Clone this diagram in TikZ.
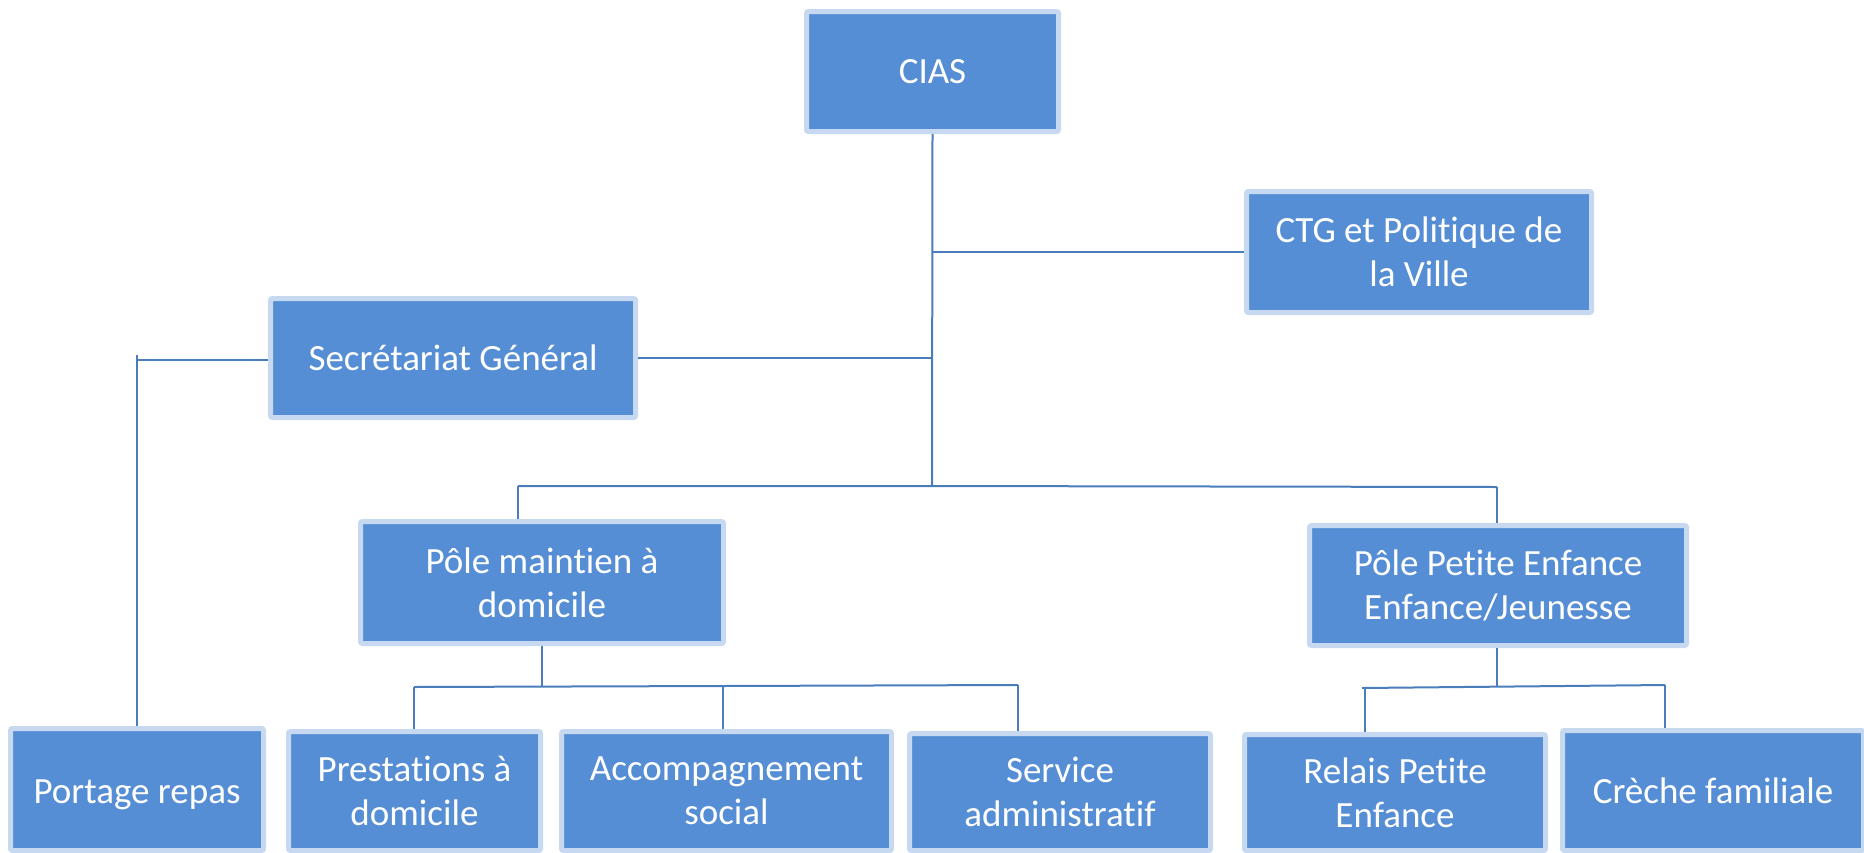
\documentclass[tikz,border=0pt]{standalone}
\usepackage{fontspec}
\setmainfont[Ligatures={NoCommon,NoContextual},RawFeature={-liga;-clig;-dlig}]{Carlito}
\definecolor{boxfill}{HTML}{558ED5}
\definecolor{boxedge}{HTML}{C6D9F1}
\definecolor{linkcol}{HTML}{4A7EBB}
\begin{document}
\begin{tikzpicture}[x=1pt,y=-1pt,
  orgbox/.style={draw=boxedge, fill=boxfill, line width=5pt, rounded corners=2pt,
    inner sep=0pt, align=center, text=white,
    font=\fontsize{37}{44}\selectfont},
  link/.style={draw=linkcol, line width=2pt}]
\useasboundingbox (0,0) rectangle (1864,852);

\node[orgbox, minimum width=252pt, minimum height=120pt] (cias) at (932.5,71.5) {CIAS};
\node[orgbox, minimum width=345pt, minimum height=121pt] (ctg) at (1419,252) {CTG et Politique de\\la Ville};
\node[orgbox, minimum width=365pt, minimum height=119pt] (sec) at (453,358) {Secrétariat Général};
\node[orgbox, minimum width=363pt, minimum height=122pt] (pm) at (542,582.5) {Pôle maintien à\\domicile};
\node[orgbox, minimum width=377pt, minimum height=120pt] (ppe) at (1498,585.5) {Pôle Petite Enfance\\Enfance/Jeunesse};

\node[orgbox, minimum width=253pt, minimum height=122pt] (por) at (137,789.5) {\raisebox{-5pt}[\height][\depth]{Portage repas}};
\node[orgbox, minimum width=252pt, minimum height=119pt] (pre) at (414.5,791) {Prestations à\\domicile};
\node[orgbox, minimum width=330pt, minimum height=119pt] (acc) at (726.5,791) {Accompagnement\\social};
\node[orgbox, minimum width=301pt, minimum height=117pt] (ser) at (1060,792) {Service\\administratif};
\node[orgbox, minimum width=301pt, minimum height=116pt] (rel) at (1395,792.5) {Relais Petite\\Enfance};
\node[orgbox, minimum width=301pt, minimum height=120pt] (cre) at (1713,790.5) {Crèche familiale};

% coordinates
\coordinate (jc) at (932,486);
\coordinate (jl) at (518,486);
\coordinate (jr) at (1497,487);
\coordinate (ptop) at (137,355);
\coordinate (pcorner) at (137,360);
\coordinate (mj) at (542,686);
\coordinate (ml) at (414,687);
\coordinate (mm) at (723,686);
\coordinate (mr) at (1018,685);
\coordinate (ej) at (1497,687);
\coordinate (el0) at (1362,688);
\coordinate (el) at (1365,688);
\coordinate (er) at (1665,685);

% main trunk
\draw[link] (cias.south) -- (jc);
\draw[link] (ctg.west) -- (ctg.west -| cias.south);
\draw[link] (sec.east) -- (sec.east -| cias.south);
\draw[link] (jl) -- (jc) -- (jr);
\draw[link] (jl) -- (jl |- pm.north);
\draw[link] (jr) -- (jr |- ppe.north);

% secretariat to portage
\draw[link] (sec.west |- pcorner) -- (pcorner);
\draw[link] (ptop) -- (por.north);

% pole maintien
\draw[link] (pm.south) -- (mj);
\draw[link] (ml) -- (mm) -- (mr);
\draw[link] (ml) -- (ml |- pre.north);
\draw[link] (mm) -- (mm |- acc.north);
\draw[link] (mr) -- (mr |- ser.north);

% pole petite enfance
\draw[link] (ppe.south -| ej) -- (ej);
\draw[link] (el0) -- (er);
\draw[link] (el) -- (el |- rel.north);
\draw[link] (er) -- (er |- cre.north);
\end{tikzpicture}
\end{document}
